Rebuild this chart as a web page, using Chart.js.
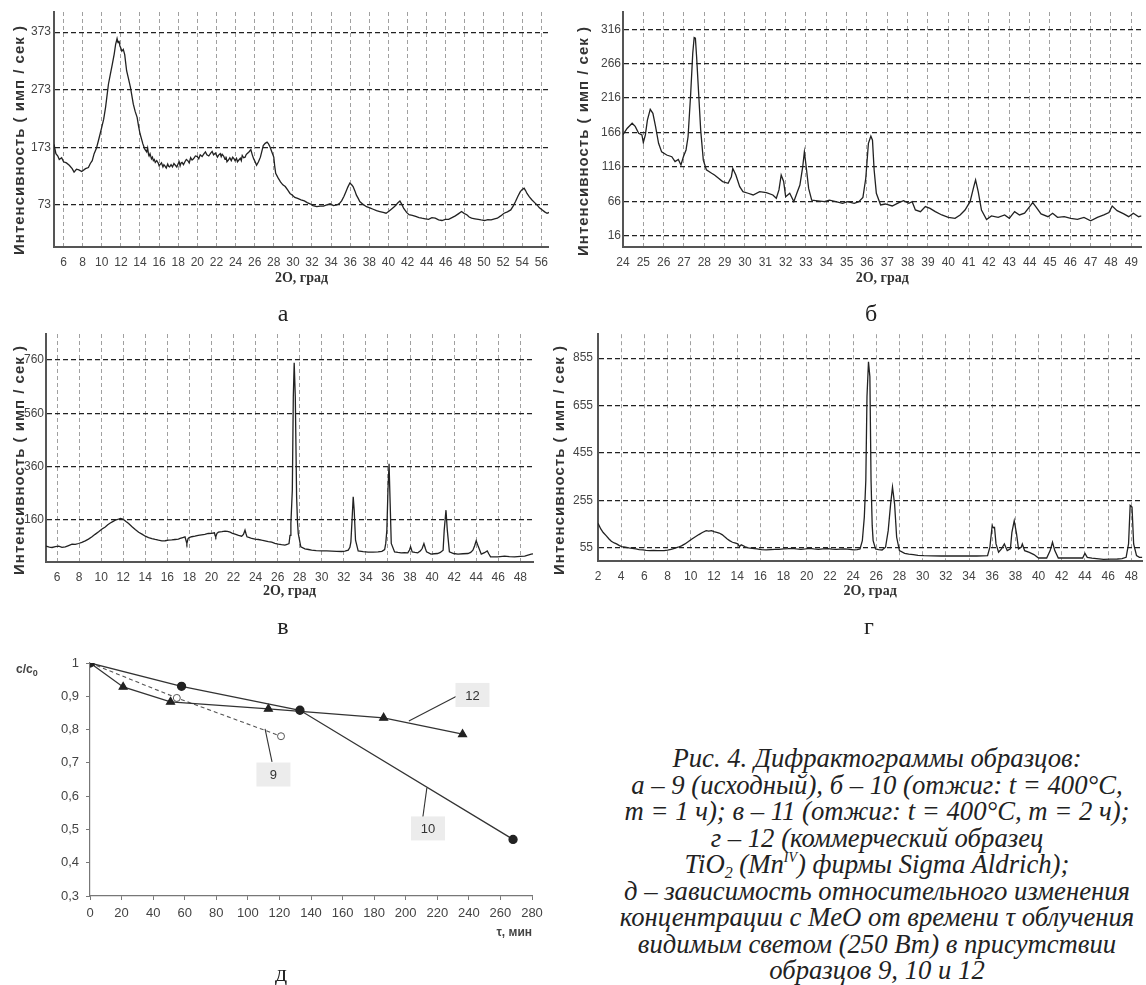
<!DOCTYPE html>
<html>
<head>
<meta charset="utf-8">
<script src="https://cdn.jsdelivr.net/npm/chart.js@4.4.1/dist/chart.umd.min.js"></script>
<style>
  body { margin: 0; width: 1146px; height: 985px; position: relative; background: #fff; overflow: hidden; }
  canvas { position: absolute; }
  .letter { position: absolute; font-family: 'Liberation Serif', 'Times New Roman', serif; font-size: 24px; color: #222; transform: translate(-50%, -50%); }
  .caption { position: absolute; left: 598px; top: 745px; width: 558px; text-align: center;
    font-family: 'Liberation Serif', 'Times New Roman', serif; font-style: italic; font-size: 26.7px; line-height: 26.5px; color: #222; }
  .caption sub { font-size: 16px; vertical-align: -5px; line-height: 0; }
  .caption sup { font-size: 14px; vertical-align: 11px; line-height: 0; }
  .cc0 { position: absolute; left: 16px; top: 662px; font-family: Arial, 'Liberation Sans', sans-serif; font-weight: bold; font-size: 12px; color: #444; }
  .cc0 sub { font-size: 9px; vertical-align: -3px; line-height: 0; }
</style>
</head>
<body>
<canvas id="chartA" width="556" height="292" style="left:0;top:0"></canvas>
<canvas id="chartB" width="573" height="292" style="left:573px;top:0"></canvas>
<canvas id="chartV" width="535" height="285" style="left:0;top:322px"></canvas>
<canvas id="chartG" width="601" height="285" style="left:545px;top:322px"></canvas>
<canvas id="chartD" width="560" height="305" style="left:0;top:640px"></canvas>

<div class="letter" style="left:283px;top:313px">а</div>
<div class="letter" style="left:871px;top:313px">б</div>
<div class="letter" style="left:283px;top:626px">в</div>
<div class="letter" style="left:869px;top:626px">г</div>
<div class="letter" style="left:281px;top:973px">д</div>
<div class="cc0">c/c<sub>0</sub></div>

<div class="caption">
  Рис. 4. Дифрактограммы образцов:<br>
  а – 9 (исходный), б – 10 (отжиг: t = 400°C,<br>
  т = 1 ч); в – 11 (отжиг: t = 400°C, т = 2 ч);<br>
  г – 12 (коммерческий образец<br>
  TiO<sub>2</sub> (Mn<sup>IV</sup>) фирмы Sigma Aldrich);<br>
  д – зависимость относительного изменения<br>
  концентрации с MeO от времени τ облучения<br>
  видимым светом (250 Вт) в присутствии<br>
  образцов 9, 10 и 12
</div>

<script>
Chart.defaults.font.family = "Arial, 'Liberation Sans', sans-serif"
Chart.defaults.animation = false

// --- а: sample 9 ---
const aTheta = [5.0, 5.2, 5.4, 5.55, 5.8, 6.0, 6.3, 6.6, 6.9, 7.1, 7.35, 7.6, 7.9, 8.3, 8.6, 8.8, 9.0, 9.2, 9.45, 9.7,
  10.0, 10.2, 10.4, 10.7, 10.9, 11.1, 11.3, 11.45, 11.6, 11.7, 11.8, 11.9, 12.0, 12.1, 12.25, 12.4, 12.6, 12.8, 13.0, 13.3,
  13.5, 13.7, 13.85, 14.0, 14.2, 14.3, 14.5, 14.7, 14.8, 14.9, 14.95, 15.05, 15.2, 15.3, 15.4, 15.5, 15.6, 15.75, 15.9, 16.0,
  16.1, 16.25, 16.4, 16.5, 16.6, 16.75, 16.9, 17.0, 17.1, 17.25, 17.4, 17.55, 17.7, 17.85, 18.0, 18.1, 18.2, 18.3, 18.4, 18.55,
  18.7, 18.85, 19.0, 19.15, 19.3, 19.45, 19.6, 19.8, 20.0, 20.15, 20.3, 20.5, 20.7, 20.85, 21.0, 21.2, 21.4, 21.55, 21.7, 21.9,
  22.1, 22.25, 22.4, 22.5, 22.6, 22.75, 22.9, 23.0, 23.1, 23.25, 23.4, 23.55, 23.7, 23.85, 23.95, 24.1, 24.2, 24.35, 24.5, 24.6,
  24.7, 24.85, 25.0, 25.1, 25.2, 25.4, 25.6, 25.75, 25.9, 26.05, 26.2, 26.4, 26.6, 26.75, 26.9, 27.1, 27.3, 27.45,
  27.6, 27.8, 28.0, 28.1, 28.2, 28.45, 28.7, 28.95, 29.2, 29.45, 29.7, 29.95, 30.2, 30.5, 30.85, 31.2, 31.5, 31.8, 32.1, 32.5,
  32.85, 33.2, 33.55, 33.9, 34.25, 34.6, 34.9, 35.1, 35.35, 35.55, 35.75, 35.96, 36.15, 36.3, 36.5, 36.65, 36.85, 37.0, 37.35, 37.7,
  38.05, 38.4, 38.75, 39.1, 39.45, 39.75, 40.05, 40.3, 40.55, 40.8, 41.0, 41.2, 41.4, 41.6, 41.9, 42.15, 42.5, 42.85, 43.2, 43.5,
  43.85, 44.2, 44.55, 44.9, 45.25, 45.6, 45.95, 46.3, 46.65, 47.0, 47.35, 47.65, 47.95, 48.2, 48.45, 48.7, 49.05, 49.4, 49.7, 50.05,
  50.4, 50.75, 51.1, 51.4, 51.75, 52.1, 52.45, 52.8, 53.05, 53.3, 53.55, 53.8, 54.0, 54.2, 54.35, 54.5, 54.75, 55.0, 55.3, 55.55,
  55.8, 56.1, 56.35, 56.6, 56.8]
const aCounts = [178, 162, 158, 152, 155, 148, 146, 142, 136, 130, 135, 134, 131, 136, 138, 145, 150, 162, 172, 188,
  208, 222, 243, 283, 300, 317, 335, 352, 362, 355, 358, 349, 345, 340, 343, 334, 306, 292, 277, 248,
  235, 225, 210, 197, 185, 179, 170, 165, 172, 160, 158, 162, 153, 156, 150, 152, 147, 150, 146, 141,
  143, 146, 139, 143, 141, 137, 144, 140, 139, 143, 139, 145, 142, 139, 145, 148, 141, 146, 147, 143,
  148, 152, 150, 146, 155, 151, 153, 158, 157, 153, 160, 157, 162, 165, 160, 158, 163, 166, 160, 163,
  156, 160, 162, 157, 161, 158, 152, 157, 148, 151, 155, 150, 156, 153, 150, 154, 148, 151, 154, 150,
  159, 155, 156, 160, 162, 165, 169, 160, 153, 148, 142, 148, 156, 166, 176, 180, 182, 179,
  174, 165, 156, 140, 128, 120, 113, 108, 105, 99, 93, 90, 86, 84.5, 82, 80, 77, 75, 72, 70,
  71, 71, 73, 75, 72, 73, 76, 80, 88, 96, 104, 111, 108, 105, 97, 90, 84, 79, 74, 70,
  68, 65.5, 63, 61.5, 60, 58.6, 62, 65.5, 69, 73, 77, 80, 74, 67, 60, 56, 55, 53, 51, 50,
  49, 48, 51, 50, 47, 46, 48, 48, 51, 54, 58, 61.5, 58, 56, 52, 50, 49, 48, 47, 46,
  47.5, 47, 49, 50, 54, 58.6, 61, 64.4, 71, 79, 88, 96, 100, 102, 98, 93, 87, 82, 77, 73,
  68, 64.4, 61, 58.6, 60]
const aTicksX = [6, 8, 10, 12, 14, 16, 18, 20, 22, 24, 26, 28, 30, 32, 34, 36, 38, 40, 42, 44, 46, 48, 50, 52, 54, 56]
const aTicksY = [73, 173, 273, 373]

// --- б: sample 10 ---
const bTheta = [24.0, 24.2, 24.45, 24.6, 24.77, 24.93, 25.0, 25.1, 25.2, 25.34, 25.47, 25.6, 25.75, 25.9, 26.15, 26.4, 26.56, 26.72, 26.85, 26.97,
  27.1, 27.2, 27.33, 27.43, 27.5, 27.56, 27.62, 27.72, 27.82, 27.95, 28.1, 28.36, 28.5, 28.7, 28.9, 29.17, 29.33, 29.4, 29.55, 29.74,
  29.9, 30.15, 30.4, 30.72, 31.05, 31.37, 31.54, 31.67, 31.78, 31.9, 32.0, 32.2, 32.4, 32.55, 32.7, 32.84, 32.92, 33.0, 33.13, 33.28,
  33.58, 33.9, 34.15, 34.47, 34.8, 35.04, 35.37, 35.6, 35.8, 35.94, 36.07, 36.19, 36.27, 36.35, 36.46, 36.67, 36.9, 37.24, 37.57, 37.8,
  38.06, 38.22, 38.38, 38.63, 38.87, 39.1, 39.36, 39.68, 40.0, 40.33, 40.58, 40.82, 41.07, 41.23, 41.34, 41.47, 41.63, 41.88, 42.12, 42.45,
  42.77, 43.0, 43.26, 43.5, 43.75, 44.0, 44.15, 44.3, 44.56, 44.9, 45.13, 45.37, 45.7, 46.02, 46.35, 46.67, 47.0, 47.33, 47.65, 47.9,
  48.06, 48.3, 48.63, 48.87, 49.1, 49.36, 49.5]
const bCounts = [163, 172, 179.5, 175, 165, 162.6, 151.5, 162.6, 184, 199.8, 194, 175, 150.5, 138, 133.5, 131, 124, 127, 119, 131,
  140.8, 160, 223, 281, 304, 303, 276, 223, 170, 126, 112, 107, 104.5, 99.7, 94.9, 92.4, 102, 114, 104.5, 87.6,
  80.3, 78, 75.5, 80.3, 79, 75.5, 70.7, 82.8, 104.5, 95, 73, 78, 65.8, 78, 90, 116.6, 138, 119, 85, 68,
  67, 65.8, 68, 65.8, 63.4, 65.8, 63.4, 65.8, 72, 99.7, 150.5, 161, 155, 112, 78, 61, 62.4, 59.5, 64.4, 67.3,
  63.4, 65.8, 53.7, 51.3, 58.6, 56, 51.3, 46.5, 43, 41.6, 46.5, 53.7, 65.8, 85, 97.3, 80.3, 53.7, 40, 45, 43,
  46.5, 41.6, 51.3, 46.5, 49, 58.6, 64.4, 58.6, 48, 44, 49, 43, 44, 41.6, 40, 43, 38, 43, 46.5, 50,
  59.5, 52.8, 48, 44, 49, 44, 45]
const bTicksX = [24, 25, 26, 27, 28, 29, 30, 31, 32, 33, 34, 35, 36, 37, 38, 39, 40, 41, 42, 43, 44, 45, 46, 47, 48, 49]
const bTicksY = [16, 66, 116, 166, 216, 266, 316]

// --- в: sample 11 ---
const vTheta = [5.0, 5.3, 5.55, 5.85, 6.15, 6.45, 6.75, 7.05, 7.36, 7.65, 7.96, 8.25, 8.56, 8.85, 9.17, 9.45, 9.77, 10.05, 10.37, 10.6,
  10.83, 11.05, 11.28, 11.5, 11.73, 11.9, 12.03, 12.25, 12.49, 12.8, 13.09, 13.4, 13.7, 14.0, 14.3, 14.6, 14.9, 15.2, 15.5, 15.8,
  16.1, 16.4, 16.7, 17.0, 17.16, 17.4, 17.6, 17.7, 17.77, 17.88, 17.98, 18.2, 18.5, 18.8, 19.1, 19.4, 19.7, 20.0, 20.27, 20.33,
  20.39, 20.5, 20.63, 20.95, 21.23, 21.45, 21.69, 21.9, 22.14, 22.45, 22.74, 22.9, 23.04, 23.12, 23.22, 23.45, 23.65, 23.95, 24.25, 24.55,
  24.85, 25.15, 25.46, 25.75, 26.06, 26.35, 26.66, 26.85, 27.03, 27.12, 27.2, 27.33, 27.42, 27.5, 27.6, 27.72, 27.8, 27.87, 28.1, 28.47,
  28.8, 29.08, 29.5, 29.98, 30.45, 30.9, 31.35, 31.8, 32.1, 32.4, 32.55, 32.64, 32.76, 32.85, 32.94, 33.06, 33.3, 33.75, 34.2, 34.65,
  35.1, 35.45, 35.7, 35.8, 35.9, 36.0, 36.1, 36.2, 36.3, 36.6, 36.9, 37.2, 37.5, 37.8, 37.95, 38.05, 38.2, 38.45, 38.7, 38.95,
  39.1, 39.26, 39.4, 39.5, 39.9, 40.2, 40.5, 40.75, 41.0, 41.1, 41.26, 41.38, 41.57, 41.95, 42.35, 42.8, 43.25, 43.5, 43.7, 43.85,
  44.0, 44.2, 44.46, 44.75, 45.0, 45.15, 45.3, 45.96, 46.57, 47.0, 47.48, 48.0, 48.4, 48.99, 49.15]
const vCounts = [60, 56, 54.6, 58, 59.6, 55, 57, 62, 67, 66, 69.6, 74, 79.7, 86, 94.7, 104, 113.6, 123, 132, 140,
  147, 152, 157.5, 160, 163.8, 162, 160, 152, 145, 133, 122.3, 112, 104.8, 97, 92, 88, 84.7, 82, 79.7, 80,
  82.2, 83, 84.7, 86, 88.5, 92, 94.7, 80, 69.6, 88, 92, 95, 97.2, 100, 102.3, 104, 107.3, 108, 109.8, 100,
  94.7, 108, 112.3, 114, 116, 115, 112.3, 108, 104.8, 100, 97.2, 104, 119.8, 108, 94.7, 92, 88.5, 86, 84.7, 82,
  79.7, 77, 74.6, 70, 67, 65, 63.4, 66, 69.6, 100, 145, 270, 622, 750, 622, 245, 150, 107, 57, 49.5,
  47, 44.5, 43, 42, 41.5, 40.8, 40, 39.5, 41, 44.5, 55, 76, 170, 245, 195, 82, 42, 39, 37, 37.5,
  38, 40, 47, 70, 120, 270, 370, 220, 70, 38, 36, 34.5, 35, 34.5, 45, 57, 38, 36, 34.5, 42,
  50.8, 69.6, 50, 38, 29.5, 31, 32, 36, 44.5, 120, 195, 120, 38, 32, 29.5, 31, 32, 36, 44.5, 60,
  79.7, 57, 29.5, 35, 42, 30, 19.4, 19.4, 22, 20, 19.4, 21, 22, 29.5, 31]
const vTicksX = [6, 8, 10, 12, 14, 16, 18, 20, 22, 24, 26, 28, 30, 32, 34, 36, 38, 40, 42, 44, 46, 48]
const vTicksY = [160, 360, 560, 760]

// --- г: sample 12 ---
const gTheta = [2.0, 2.24, 2.45, 2.7, 2.95, 3.15, 3.4, 3.6, 3.85, 4.06, 4.35, 4.67, 4.95, 5.27, 5.55, 5.88, 6.15, 6.48, 6.8, 7.1,
  7.4, 7.7, 8.0, 8.3, 8.6, 8.9, 9.2, 9.5, 9.8, 10.1, 10.4, 10.7, 11.0, 11.33, 11.55, 11.8, 12.0, 12.24, 12.45, 12.7,
  12.9, 13.15, 13.35, 13.6, 13.8, 14.06, 14.2, 14.35, 14.5, 14.7, 14.97, 15.3, 15.7, 16.1, 16.5, 16.9, 17.24, 17.6, 18.0, 18.4,
  18.76, 19.1, 19.5, 19.9, 20.27, 20.6, 21.0, 21.4, 21.8, 22.2, 22.55, 22.9, 23.3, 23.7, 24.06, 24.35, 24.6, 24.8, 24.97, 25.1,
  25.2, 25.33, 25.45, 25.55, 25.65, 25.73, 25.94, 26.2, 26.5, 26.8, 27.03, 27.24, 27.4, 27.58, 27.76, 28.0, 28.45, 28.8, 29.2, 29.6,
  30.1, 30.8, 31.6, 32.4, 33.15, 33.9, 34.67, 35.2, 35.6, 35.8, 36.0, 36.1, 36.2, 36.33, 36.55, 36.8, 37.05, 37.3, 37.57, 37.7,
  37.9, 38.1, 38.27, 38.5, 38.6, 38.8, 39.2, 39.6, 40.0, 40.35, 40.7, 41.0, 41.2, 41.4, 41.7, 42.3, 42.85, 43.4, 43.8, 44.0,
  44.2, 44.6, 45.0, 45.6, 46.2, 46.8, 47.2, 47.55, 47.76, 47.9, 48.06, 48.2, 48.45, 48.7, 48.95]
const gCounts = [159, 135, 120, 107, 93, 83, 76, 72, 65, 60.6, 58, 55, 53, 51, 48, 46.5, 45, 43.7, 45, 43.7,
  44, 43.7, 46, 49.4, 53, 58, 64, 72, 82, 93, 102, 111.4, 120, 128.3, 126, 128.3, 124, 121, 118, 111.4,
  103, 93, 86, 79, 76, 72, 60.6, 68, 65, 60, 55, 53, 51, 48, 46.5, 48, 49.4, 49, 51, 52,
  53.6, 51, 49.4, 51, 53.6, 51, 49.4, 51, 52, 50, 49.4, 50, 51, 49, 46.5, 48, 51, 86, 185, 340,
  692, 840, 777, 340, 150, 86, 51, 48, 46.5, 58, 128, 241, 312, 241, 100, 43.7, 32.4, 29, 27, 24,
  22.6, 22, 21, 21.5, 21, 21.5, 21, 22, 22.6, 58, 149.5, 140, 142, 72, 36.7, 51, 72, 43.7, 51, 121,
  170, 114, 51, 58, 72, 43.7, 36.7, 27, 12.7, 12.7, 12.7, 43.7, 79, 43.7, 12.7, 12.7, 12.7, 12.7, 12.7, 32.4,
  15.5, 12, 10, 7, 8, 8.5, 10, 15.5, 72, 234, 227, 72, 22.6, 15.5, 15]
const gTicksX = [2, 4, 6, 8, 10, 12, 14, 16, 18, 20, 22, 24, 26, 28, 30, 32, 34, 36, 38, 40, 42, 44, 46, 48]
const gTicksY = [55, 255, 455, 655, 855]

// --- д: c/c0 vs irradiation time ---
const d10Time = [0, 58, 133, 268]
const d10Ratio = [1, 0.93, 0.858, 0.47]
const d12Time = [0, 21, 51, 113, 186, 236]
const d12Ratio = [1, 0.928, 0.883, 0.862, 0.835, 0.786]
const d9Time = [0, 55, 121]
const d9Ratio = [1, 0.895, 0.78]
const dTicksX = [0, 20, 40, 60, 80, 100, 120, 140, 160, 180, 200, 220, 240, 260, 280]
const dTicksY = [0.3, 0.4, 0.5, 0.6, 0.7, 0.8, 0.9, 1]

const yTitleText = 'Интенсивность ( имп / сек )'

// rotated y title, drawn a bit below the axis centre like in the original
const sideTitle = {
  id: 'sideTitle',
  afterDraw(chart, args, opts) {
    if (!opts.text) return
    const ctx = chart.ctx
    ctx.save()
    ctx.translate(opts.x, opts.y)
    ctx.rotate(-Math.PI / 2)
    ctx.font = "bold 15px Arial, 'Liberation Sans', sans-serif"
    ctx.letterSpacing = '1px'
    ctx.fillStyle = '#333'
    ctx.textAlign = 'center'
    ctx.textBaseline = 'middle'
    ctx.fillText(opts.text, 0, 0)
    ctx.restore()
  }
}

function pairs(xs, ys) {
  return xs.map((x, i) => ({ x, y: ys[i] }))
}

function xrdChart(id, theta, counts, s) {
  return new Chart(document.getElementById(id), {
    type: 'line',
    data: {
      datasets: [{
        data: pairs(theta, counts),
        borderColor: '#222',
        borderWidth: 1.3,
        pointRadius: 0,
        tension: 0
      }]
    },
    plugins: [sideTitle],
    options: {
      responsive: false,
      layout: { padding: { top: 12, left: 0, right: 0, bottom: 0 } },
      plugins: {
        legend: { display: false },
        tooltip: { enabled: false },
        sideTitle: { text: yTitleText, x: s.titleX, y: s.titleY }
      },
      scales: {
        x: {
          type: 'linear',
          min: s.xMin,
          max: s.xMax,
          afterBuildTicks: (scale) => { scale.ticks = s.ticksX.map((v) => ({ value: v })) },
          afterFit: (scale) => { scale.height = s.axisH },
          grid: { color: '#a0a0a0', lineWidth: 1, drawTicks: false },
          border: { color: '#555', width: 2, dash: [4, 3] },
          ticks: { color: '#444', font: { size: 12 }, padding: 8, autoSkip: false, maxRotation: 0 },
          title: {
            display: true,
            text: '2O, град',
            color: '#333',
            font: { family: "'Liberation Serif', 'Times New Roman', serif", size: 14, weight: 'bold' },
            padding: { top: 0, bottom: s.titlePad }
          }
        },
        y: {
          min: 0,
          max: s.yMax,
          afterBuildTicks: (scale) => { scale.ticks = s.ticksY.map((v) => ({ value: v })) },
          afterFit: (scale) => { scale.width = s.axisW },
          grid: { color: '#222', lineWidth: 1.3, drawTicks: false },
          border: { color: '#555', width: 2, dash: [5, 3] },
          ticks: { color: '#444', font: { size: 12 }, padding: s.tickPad }
        }
      }
    }
  })
}

xrdChart('chartA', aTheta, aCounts, {
  xMin: 5, xMax: 56.8, ticksX: aTicksX, yMax: 408, ticksY: aTicksY,
  axisW: 54, axisH: 45, titlePad: 5, tickPad: 3, titleX: 20, titleY: 140
})
xrdChart('chartB', bTheta, bCounts, {
  xMin: 24, xMax: 49.5, ticksX: bTicksX, yMax: 341, ticksY: bTicksY,
  axisW: 50, axisH: 45, titlePad: 5, tickPad: 2, titleX: 11, titleY: 141
})
xrdChart('chartV', vTheta, vCounts, {
  xMin: 5, xMax: 49.15, ticksX: vTicksX, yMax: 858, ticksY: vTicksY,
  axisW: 46, axisH: 45, titlePad: 7, tickPad: 2, titleX: 20, titleY: 138
})
xrdChart('chartG', gTheta, gCounts, {
  xMin: 2, xMax: 48.95, ticksX: gTicksX, yMax: 956, ticksY: gTicksY,
  axisW: 53, axisH: 46, titlePad: 7, tickPad: 5, titleX: 15, titleY: 138
})

// numbered callouts with leader lines (data coordinates)
const callouts = {
  id: 'callouts',
  afterDatasetsDraw(chart, args, opts) {
    const ctx = chart.ctx
    const x = chart.scales.x
    const y = chart.scales.y
    opts.items.forEach((c) => {
      ctx.save()
      ctx.strokeStyle = '#333'
      ctx.lineWidth = 1.1
      ctx.beginPath()
      ctx.moveTo(x.getPixelForValue(c.from[0]), y.getPixelForValue(c.from[1]))
      ctx.lineTo(x.getPixelForValue(c.to[0]), y.getPixelForValue(c.to[1]))
      ctx.stroke()
      const bx = x.getPixelForValue(c.at[0])
      const by = y.getPixelForValue(c.at[1])
      ctx.fillStyle = '#ececec'
      ctx.fillRect(bx - 17, by - 12, 34, 24)
      ctx.fillStyle = '#333'
      ctx.font = "13px Arial, 'Liberation Sans', sans-serif"
      ctx.textAlign = 'center'
      ctx.textBaseline = 'middle'
      ctx.fillText(c.label, bx, by + 1)
      ctx.restore()
    })
  }
}

const comma = (v) => String(v).replace('.', ',')

new Chart(document.getElementById('chartD'), {
  type: 'line',
  data: {
    datasets: [
      {
        label: '10',
        data: pairs(d10Time, d10Ratio),
        borderColor: '#333',
        borderWidth: 1.3,
        pointStyle: 'circle',
        pointRadius: 4,
        pointBackgroundColor: '#222',
        pointBorderColor: '#222'
      },
      {
        label: '12',
        data: pairs(d12Time, d12Ratio),
        borderColor: '#333',
        borderWidth: 1.3,
        pointStyle: 'triangle',
        pointRadius: 4.5,
        pointBackgroundColor: '#222',
        pointBorderColor: '#222'
      },
      {
        label: '9',
        data: pairs(d9Time, d9Ratio),
        borderColor: '#555',
        borderWidth: 1.1,
        borderDash: [4, 3],
        pointStyle: 'circle',
        pointRadius: 3.5,
        pointBackgroundColor: '#fff',
        pointBorderColor: '#555',
        pointBorderWidth: 1
      }
    ]
  },
  plugins: [callouts],
  options: {
    responsive: false,
    layout: { padding: { top: 23, right: 28, left: 0, bottom: 0 } },
    plugins: {
      legend: { display: false },
      tooltip: { enabled: false },
      callouts: {
        items: [
          { label: '12', at: [242.3, 0.904], from: [232.5, 0.901], to: [202, 0.826] },
          { label: '9', at: [116.2, 0.665], from: [115.3, 0.703], to: [110.9, 0.802] },
          { label: '10', at: [214.1, 0.503], from: [210.8, 0.535], to: [213.4, 0.625] }
        ]
      }
    },
    scales: {
      x: {
        type: 'linear',
        min: 0,
        max: 280,
        afterBuildTicks: (scale) => { scale.ticks = dTicksX.map((v) => ({ value: v })) },
        afterFit: (scale) => { scale.height = 49 },
        grid: { drawOnChartArea: false, drawTicks: true, tickLength: 4, color: '#777' },
        border: { color: '#777', width: 1.2 },
        ticks: { color: '#444', font: { size: 13 }, padding: 6, autoSkip: false, maxRotation: 0 },
        title: {
          display: true,
          text: 'τ, мин',
          align: 'end',
          color: '#444',
          font: { size: 12, weight: 'bold' },
          padding: { top: 0, bottom: 5 }
        }
      },
      y: {
        min: 0.3,
        max: 1,
        afterBuildTicks: (scale) => { scale.ticks = dTicksY.map((v) => ({ value: v })) },
        afterFit: (scale) => { scale.width = 90 },
        grid: { drawOnChartArea: false, drawTicks: true, tickLength: 4, color: '#777' },
        border: { color: '#777', width: 1.2 },
        ticks: { color: '#444', font: { size: 13 }, padding: 7, callback: comma }
      }
    }
  }
})
</script>
</body>
</html>
